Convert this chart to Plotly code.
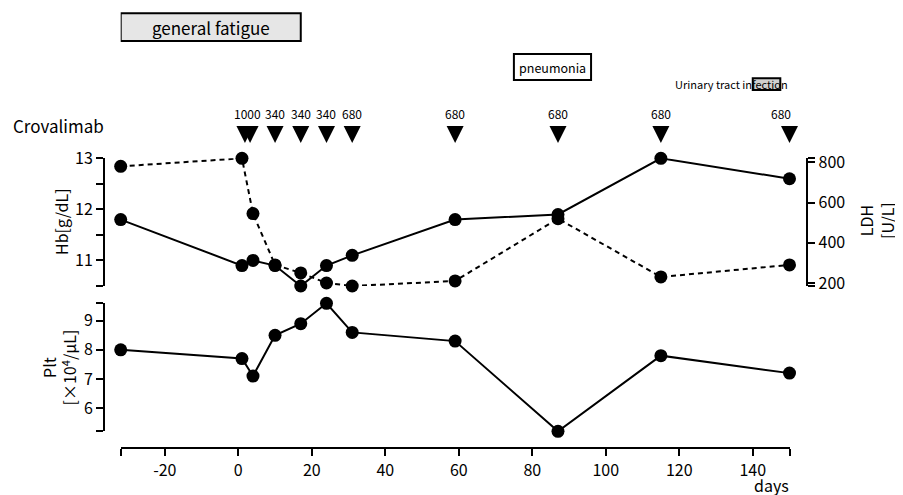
import plotly.graph_objects as go

# ---------------- data ----------------
days = [-32, 1, 4, 10, 17, 24, 31, 59, 87, 115, 150]
hb = [11.8, 10.9, 11.0, 10.9, 10.5, 10.9, 11.1, 11.8, 11.9, 13.0, 12.6]
ldh = [780, 820, 545, 290, 250, 200, 185, 210, 520, 230, 290]
plt_vals = [8.0, 7.7, 7.1, 8.5, 8.9, 9.6, 8.6, 8.3, 5.2, 7.8, 7.2]

dose_days = [1.8, 3.2, 10, 17, 24, 31, 59, 87, 115, 150]
dose_mg = [1000, 340, 340, 340, 340, 680, 680, 680, 680, 680]
dose_labels = ["1000", "", "340", "340", "340", "680", "680", "680", "680", "680"]

event_names = ["general fatigue", "pneumonia", "Urinary tract infection"]
event_start = [-32, 75, 140]
event_end = [17, 96, 147.5]

hb_ticks = [10.5, 11, 11.5, 12, 12.5, 13]
hb_ticktext = ["", "11", "", "12", "", "13"]
ldh_ticks = [185, 200, 400, 600, 800, 820]
ldh_ticktext = ["", "200", "400", "600", "800", ""]
plt_ticks = [5.2, 6, 7, 8, 9, 9.6]
plt_ticktext = ["", "6", "7", "8", "9", ""]
x_ticks = [-32, -20, 0, 20, 40, 60, 80, 100, 120, 140, 150]
x_ticktext = ["", "-20", "0", "20", "40", "60", "80", "100", "120", "140", ""]

# ---------------- figure ----------------
W, H = 903, 495
ML, MR, MT, MB = 90, 100, 10, 30
PW, PH = W - ML - MR, H - MT - MB
OFF = 8  # page body margin


def px_x(p):
    return (p - OFF - ML) / PW


def px_y(p):
    return (H - MB - (p - OFF)) / PH


FONT = "Noto Sans CJK JP"
BLACK = "black"

fig = go.Figure()

mk = dict(size=13, color=BLACK)
fig.add_trace(go.Scatter(x=days, y=hb, mode="lines+markers", xaxis="x", yaxis="y",
                         line=dict(color=BLACK, width=2), marker=mk, cliponaxis=False,
                         showlegend=False))
fig.add_trace(go.Scatter(x=days, y=ldh, mode="lines+markers", xaxis="x", yaxis="y2",
                         line=dict(color=BLACK, width=2, dash="5px,4px"), marker=mk,
                         cliponaxis=False, showlegend=False))
fig.add_trace(go.Scatter(x=days, y=plt_vals, mode="lines+markers", xaxis="x", yaxis="y3",
                         line=dict(color=BLACK, width=2), marker=mk, cliponaxis=False,
                         showlegend=False))
# dosing triangles
fig.add_trace(go.Scatter(x=dose_days, y=[0.14] * len(dose_days), mode="markers",
                         xaxis="x", yaxis="y4",
                         marker=dict(symbol="arrow-down", size=17, color=BLACK,
                                     line=dict(width=0)),
                         cliponaxis=False, showlegend=False, customdata=dose_mg))

ax_common = dict(showline=True, linewidth=2, linecolor=BLACK, ticks="outside",
                 ticklen=7, tickwidth=2, tickcolor=BLACK, showgrid=False,
                 zeroline=False, automargin=False,
                 tickfont=dict(size=16, color=BLACK, family=FONT))

fig.update_layout(
    template="none",
    width=W, height=H,
    margin=dict(l=ML, r=MR, t=MT, b=MB, autoexpand=False),
    paper_bgcolor="white", plot_bgcolor="white",
    font=dict(family=FONT, color=BLACK, size=16),
    xaxis=dict(domain=[px_x(120.7), px_x(789.5)], range=[-32, 150], anchor="free",
               position=px_y(448.3), tickvals=x_ticks, ticktext=x_ticktext,
               **ax_common),
    yaxis=dict(domain=[px_y(286), px_y(158.3)], range=[10.5, 13], anchor="free",
               position=px_x(104), side="left", tickvals=hb_ticks,
               ticktext=hb_ticktext, **ax_common),
    yaxis2=dict(overlaying="y", range=[185, 820], anchor="free", position=px_x(807.3),
                side="right", tickvals=ldh_ticks, ticktext=ldh_ticktext, **ax_common),
    yaxis3=dict(domain=[px_y(431.3), px_y(303.3)], range=[5.2, 9.6], anchor="free",
                position=px_x(104), side="left", tickvals=plt_ticks,
                ticktext=plt_ticktext, **ax_common),
    yaxis4=dict(domain=[px_y(150), px_y(100)], range=[0, 1], visible=False,
                anchor="free", position=0, automargin=False),
)

shapes = []
annotations = []

# event boxes
box_style = [
    dict(fill="#e6e6e6", y0=px_y(41), y1=px_y(13.3), size=17),
    dict(fill="white", y0=px_y(80), y1=px_y(54), size=12.5),
]
for i in range(2):
    st = box_style[i]
    shapes.append(dict(type="rect", xref="x", yref="paper", x0=event_start[i],
                       x1=event_end[i], y0=st["y0"], y1=st["y1"],
                       fillcolor=st["fill"], line=dict(color=BLACK, width=2),
                       layer="above"))
    annotations.append(dict(x=(event_start[i] + event_end[i]) / 2, xref="x",
                            y=(st["y0"] + st["y1"]) / 2, yref="paper",
                            text=event_names[i], showarrow=False,
                            font=dict(size=st["size"], color=BLACK),
                            xanchor="center", yanchor="middle"))
# urinary tract infection
shapes.append(dict(type="rect", xref="x", yref="paper", x0=event_start[2],
                   x1=event_end[2], y0=px_y(90), y1=px_y(78.3),
                   fillcolor="#d0d0d0", line=dict(color=BLACK, width=2),
                   layer="above"))
annotations.append(dict(x=px_x(731.7), xref="paper", y=px_y(84), yref="paper",
                        text=event_names[2], showarrow=False,
                        font=dict(size=11, color=BLACK), xanchor="center",
                        yanchor="middle"))

# dose labels
for i, (d, lab) in enumerate(zip(dose_days, dose_labels)):
    if not lab:
        continue
    xd = d if i > 0 else (dose_days[0] + dose_days[1]) / 2
    annotations.append(dict(x=xd, xref="x", y=0.74, yref="y4", text=lab,
                            showarrow=False, font=dict(size=12, color=BLACK),
                            xanchor="center", yanchor="middle",
                            xshift=-9 if i == len(dose_days) - 1 else 0))

annotations += [
    dict(x=px_x(11), xref="paper", y=px_y(125), yref="paper", text="Crovalimab",
         showarrow=False, font=dict(size=17), xanchor="left", yanchor="middle"),
    dict(x=px_x(61), xref="paper", y=px_y(222), yref="paper", text="Hb[g/dL]",
         showarrow=False, textangle=-90, font=dict(size=16), xanchor="center",
         yanchor="middle"),
    dict(x=px_x(59), xref="paper", y=px_y(367.5), yref="paper",
         text="Plt<br>[×10<sup>4</sup>/μL]", showarrow=False, textangle=-90,
         font=dict(size=16), xanchor="center", yanchor="middle"),
    dict(x=px_x(876), xref="paper", y=px_y(221), yref="paper", text="LDH<br>[U/L]",
         showarrow=False, textangle=-90, font=dict(size=16), xanchor="center",
         yanchor="middle"),
    dict(x=px_x(771.7), xref="paper", y=px_y(485.5), yref="paper", text="days",
         showarrow=False, font=dict(size=16), xanchor="center", yanchor="middle",
         borderpad=0),
]

fig.update_layout(shapes=shapes, annotations=annotations)
fig.write_html("out.html")
